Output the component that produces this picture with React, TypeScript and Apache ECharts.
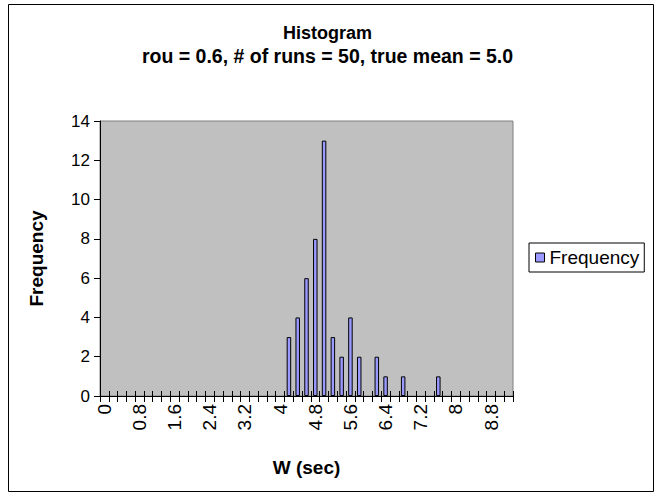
import React, { useEffect, useRef } from "react";
import * as echarts from "echarts";

const titleText = "Histogram";
const subtitleText = "rou = 0.6, # of runs = 50, true mean = 5.0";
const xAxisName = "W (sec)";
const yAxisName = "Frequency";
const seriesName = "Frequency";

// bin categories (W in seconds)
const categories = [
  "0", "0.2", "0.4", "0.6", "0.8", "1", "1.2", "1.4", "1.6", "1.8",
  "2", "2.2", "2.4", "2.6", "2.8", "3", "3.2", "3.4", "3.6", "3.8",
  "4", "4.2", "4.4", "4.6", "4.8", "5", "5.2", "5.4", "5.6", "5.8",
  "6", "6.2", "6.4", "6.6", "6.8", "7", "7.2", "7.4", "7.6", "7.8",
  "8", "8.2", "8.4", "8.6", "8.8", "9", "9.2",
];

// frequency of each bin
const frequency = [
  0, 0, 0, 0, 0, 0, 0, 0, 0, 0,
  0, 0, 0, 0, 0, 0, 0, 0, 0, 0,
  0, 3, 4, 6, 8, 13, 3, 2, 4, 2,
  0, 2, 1, 0, 1, 0, 0, 0, 1, 0,
  0, 0, 0, 0, 0, 0, 0,
];

const yMin = 0;
const yMax = 14;
const yInterval = 2;

const FONT = "'Liberation Sans', Arial, sans-serif";

export default function App() {
  const ref = useRef<HTMLDivElement>(null);

  useEffect(() => {
    if (!ref.current) return;
    const chart = echarts.init(ref.current, null, { renderer: "svg" });
    const barData = frequency.map((v) => (v === 0 ? "-" : v));
    chart.setOption({
      animation: false,
      backgroundColor: "#FFFFFF",
      textStyle: { fontFamily: FONT, color: "#000" },
      title: {
        text: "{a|" + titleText + "}\n{b|" + subtitleText + "}",
        left: "center",
        top: 16,
        textStyle: {
          fontFamily: FONT,
          color: "#000",
          rich: {
            a: { fontFamily: FONT, fontSize: 18, fontWeight: "bold", color: "#000", lineHeight: 23, align: "center" },
            b: { fontFamily: FONT, fontSize: 19.5, fontWeight: "bold", color: "#000", lineHeight: 23, align: "center" },
          },
        },
      },
      legend: {
        left: 529,
        top: 243,
        orient: "vertical",
        backgroundColor: "#FFFFFF",
        borderColor: "#000",
        borderWidth: 1,
        borderRadius: 0,
        padding: [5, 5, 5, 6],
        itemWidth: 9,
        itemHeight: 9,
        itemGap: 0,
        icon: "rect",
        itemStyle: { color: "#9999FF", borderColor: "#000", borderWidth: 1 },
        textStyle: { fontFamily: FONT, fontSize: 19, color: "#000" },
        data: [seriesName],
      },
      grid: {
        left: 100,
        top: 121,
        width: 413,
        height: 275,
        show: true,
        backgroundColor: "#C0C0C0",
        borderColor: "#808080",
        borderWidth: 1,
        containLabel: false,
      },
      xAxis: [
        {
          type: "category",
          data: categories,
          position: "bottom",
          boundaryGap: true,
          name: xAxisName,
          nameLocation: "middle",
          nameGap: 62,
          nameTextStyle: { fontFamily: FONT, fontSize: 19, fontWeight: "bold", color: "#000" },
          axisLine: { show: true, lineStyle: { color: "#000", width: 1 } },
          axisTick: { show: true, interval: 0, length: 6, lineStyle: { color: "#000" } },
          axisLabel: {
            interval: 3,
            rotate: 90,
            margin: 8,
            fontFamily: FONT,
            fontSize: 19,
            color: "#000",
          },
          splitLine: { show: false },
        },
        {
          type: "category",
          data: categories,
          position: "bottom",
          boundaryGap: true,
          axisLine: { show: false },
          axisTick: { show: true, inside: true, interval: 0, length: 5, lineStyle: { color: "#000" } },
          axisLabel: { show: false },
          splitLine: { show: false },
        },
      ],
      yAxis: {
        type: "value",
        min: yMin,
        max: yMax,
        interval: yInterval,
        name: yAxisName,
        nameLocation: "middle",
        nameGap: 54,
        nameRotate: 90,
        nameTextStyle: { fontFamily: FONT, fontSize: 19, fontWeight: "bold", color: "#000" },
        axisLine: { show: true, lineStyle: { color: "#000", width: 1 } },
        axisTick: { show: true, length: 6, lineStyle: { color: "#000" } },
        axisLabel: { margin: 10, fontFamily: FONT, fontSize: 17, color: "#000" },
        splitLine: { show: false },
      },
      series: [
        {
          name: seriesName,
          type: "bar",
          xAxisIndex: 0,
          yAxisIndex: 0,
          data: barData,
          barWidth: 4.5,
          itemStyle: { color: "#9999FF", borderColor: "#000", borderWidth: 1 },
        },
      ],
      graphic: [
        {
          type: "rect",
          left: 6,
          top: 2,
          shape: { x: 0, y: 0, width: 645, height: 487 },
          style: { fill: "none", stroke: "#000", lineWidth: 1 },
          silent: true,
        },
      ],
    });
    return () => chart.dispose();
  }, []);

  return (
    <div
      ref={ref}
      style={{ position: "absolute", left: 0, top: 0, width: 655, height: 493 }}
    />
  );
}
